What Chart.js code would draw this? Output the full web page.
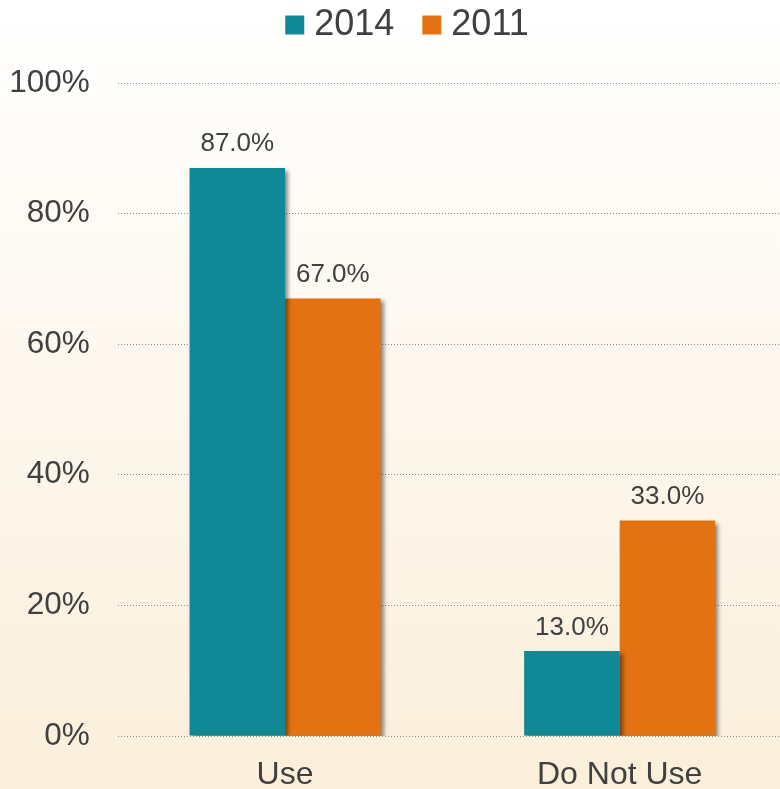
<!DOCTYPE html>
<html><head><meta charset="utf-8">
<script src="https://cdn.jsdelivr.net/npm/chart.js@4"></script>
<style>html,body{margin:0;padding:0;background:#fff}#wrap{width:780px;height:789px}</style>
</head><body><div id="wrap"><canvas id="c" width="780" height="789"></canvas></div>
<script>
const categories = ["Use", "Do Not Use"];
const seriesNames = ["2014", "2011"];
const values2014 = [87.0, 13.0];
const values2011 = [67.0, 33.0];
const yTicks = [0, 20, 40, 60, 80, 100];

const FONT = '"Liberation Sans", Arial, sans-serif';
const LEGEND_DX = 21, LEGEND_DY = -29;
const PLOT_RIGHT = 787;

const bgPlugin = {
  id: 'bg',
  beforeDraw(chart) {
    const ctx = chart.ctx;
    const g = ctx.createLinearGradient(0, 0, 0, chart.height);
    g.addColorStop(0, '#ffffff');
    g.addColorStop(1, '#fbefdb');
    ctx.save(); ctx.fillStyle = g; ctx.fillRect(0, 0, chart.width, chart.height); ctx.restore();
  }
};
const layoutTweak = {
  id: 'layoutTweak',
  afterInit(chart) {
    const lg = chart.legend;
    const fit = lg.fit;
    lg.fit = function () { fit.call(this); this.height = 83; };
    const draw = lg.draw;
    lg.draw = function () {
      const ctx = this.ctx; ctx.save(); ctx.translate(LEGEND_DX, LEGEND_DY); draw.apply(this, arguments); ctx.restore();
    };
  },
  afterLayout(chart) {
    const x = chart.scales.x;
    x.right = PLOT_RIGHT; x.width = x.right - x.left; x.configure();
    chart.chartArea.right = PLOT_RIGHT; chart.chartArea.width = PLOT_RIGHT - chart.chartArea.left;
  }
};
const shadowPlugin = {
  id: 'shadow',
  beforeDatasetsDraw(chart) {
    const ctx = chart.ctx; ctx.save();
    ctx.shadowColor = 'rgba(0,0,0,0.45)'; ctx.shadowOffsetX = 3; ctx.shadowOffsetY = 3; ctx.shadowBlur = 4;
  },
  afterDatasetsDraw(chart) { chart.ctx.restore(); }
};
const labelPlugin = {
  id: 'labels',
  afterDatasetsDraw(chart) {
    const ctx = chart.ctx; ctx.save();
    ctx.font = '26px ' + FONT;
    ctx.fillStyle = '#404040'; ctx.textAlign = 'center'; ctx.textBaseline = 'alphabetic';
    chart.data.datasets.forEach((ds, i) => {
      chart.getDatasetMeta(i).data.forEach((bar, j) => {
        ctx.fillText(ds.data[j].toFixed(1) + '%', bar.x, bar.y - 16.5);
      });
    });
    ctx.restore();
  }
};

new Chart(document.getElementById('c'), {
  type: 'bar',
  data: {
    labels: categories,
    datasets: [
      { label: seriesNames[0], data: values2014, backgroundColor: '#118896' },
      { label: seriesNames[1], data: values2011, backgroundColor: '#e37212' }
    ]
  },
  options: {
    responsive: false, animation: false,
    layout: { padding: 0 },
    datasets: { bar: { categoryPercentage: 0.571, barPercentage: 1.0 } },
    plugins: {
      legend: {
        position: 'top',
        labels: { font: { size: 36, family: FONT }, color: '#404040',
          usePointStyle: true, pointStyle: 'rect',
          boxWidth: 3, boxHeight: 19, padding: 36 }
      },
      tooltip: { enabled: false }
    },
    scales: {
      x: {
        afterFit(s) { s.height = 53; },
        grid: { display: false, drawTicks: false },
        border: { display: false },
        ticks: { font: { size: 32, family: FONT }, color: '#404040', padding: 20 }
      },
      y: {
        min: 0, max: 100,
        afterFit(s) { s.width = 117.75; },
        afterBuildTicks(axis) { axis.ticks = yTicks.map(v => ({ value: v })); },
        grid: { color: '#8a8a8a', lineWidth: 1, drawTicks: false },
        border: { display: false, dash: [1, 2] },
        ticks: { font: { size: 31.5, family: FONT }, color: '#404040', padding: 28,
          callback: v => v + '%' }
      }
    }
  },
  plugins: [bgPlugin, layoutTweak, shadowPlugin, labelPlugin]
});
</script></body></html>
